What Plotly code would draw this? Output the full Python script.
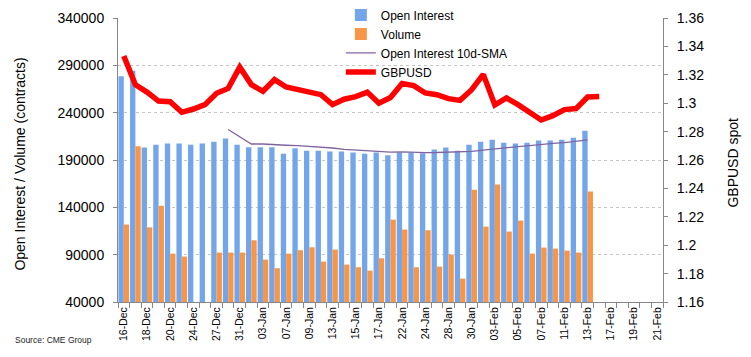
import plotly.graph_objects as go

# ---- data ----
dates = ["16-Dec", "17-Dec", "18-Dec", "19-Dec", "20-Dec", "23-Dec", "24-Dec", "26-Dec",
         "27-Dec", "30-Dec", "31-Dec", "02-Jan", "03-Jan", "06-Jan", "07-Jan", "08-Jan",
         "09-Jan", "10-Jan", "13-Jan", "14-Jan", "15-Jan", "16-Jan", "17-Jan", "21-Jan",
         "22-Jan", "23-Jan", "24-Jan", "27-Jan", "28-Jan", "29-Jan", "30-Jan", "31-Jan",
         "03-Feb", "04-Feb", "05-Feb", "06-Feb", "07-Feb", "10-Feb", "11-Feb", "12-Feb",
         "13-Feb", "14-Feb", "17-Feb", "18-Feb", "19-Feb", "20-Feb", "21-Feb"]

open_interest = [278400, 284400, 203100, 206200, 207300, 207300, 206200, 207300, 209400, 212600,
                 206200, 203400, 203400, 203400, 196700, 202400, 199900, 199900, 198900, 198900,
                 197800, 196700, 197800, 195000, 197800, 197800, 197100, 201000, 203100, 199900,
                 206200, 209400, 211500, 208300, 207300, 208300, 210500, 210500, 211500, 213600,
                 221000]

volume = [121800, 204500, 118900, 141800, 91100, 88000, None, None, 92200, 92200,
          92200, 105200, 84800, 75700, 91100, 94700, 97800, 82700, 95400, 79500,
          76700, 73200, 86200, 127000, 116500, 76700, 115800, 77400, 90100, 64700,
          158700, 119600, 164000, 114400, 126000, 91100, 97500, 96400, 94300, 92200,
          156600]

# 10d-SMA starts on 30-Dec
oi_sma = [None] * 9 + [222200, 215000, 206900, 206900, 206600, 205600, 205100, 204500, 203700,
                       202700, 201300, 200500, 199800, 199200, 198400, 198500, 198000, 197800,
                       197900, 198300, 198400, 199200, 200500, 201900, 203200, 204200, 205200,
                       206500, 207500, 208300, 209700, 211200]

gbpusd = [1.3332, 1.3130, 1.3078, 1.3015, 1.3010, 1.2936, 1.2959, 1.2990, 1.3070, 1.3104,
          1.3254, 1.3131, 1.3084, 1.3166, 1.3114, 1.3095, 1.3072, 1.3060, 1.2990, 1.3028,
          1.3046, 1.3078, 1.3000, 1.3040, 1.3138, 1.3124, 1.3072, 1.3060, 1.3032, 1.3020,
          1.3095, 1.3203, 1.2988, 1.3037, 1.2990, 1.2931, 1.2882, 1.2912, 1.2955, 1.2962,
          1.3044, 1.3048]

tick_text = [d if i % 2 == 0 else "" for i, d in enumerate(dates)]

FONT = "Liberation Sans, Arial, sans-serif"
AXIS_GREY = "#878787"

fig = go.Figure()
fig.add_trace(go.Bar(x=dates[:len(open_interest)], y=open_interest, name="Open Interest",
                     marker=dict(color="#73a5ea", line=dict(width=0))))
fig.add_trace(go.Bar(x=dates[:len(volume)], y=volume, name="Volume",
                     marker=dict(color="#f79646", line=dict(width=0))))
fig.add_trace(go.Scatter(x=dates[:len(oi_sma)], y=oi_sma, name="Open Interest 10d-SMA",
                         mode="lines", line=dict(color="#8064a2", width=1.3)))
fig.add_trace(go.Scatter(x=dates[:len(gbpusd)], y=gbpusd, name="GBPUSD", yaxis="y2",
                         mode="lines", line=dict(color="#ff0000", width=5.5)))

# the page body adds an 8px margin, so the figure is 8px smaller on each side
fig.update_layout(
    template="none",
    width=743, height=349,
    margin=dict(l=110, r=88, t=10, b=55, autoexpand=False),
    paper_bgcolor="white", plot_bgcolor="white",
    font=dict(family=FONT, color="black", size=14),
    barmode="group", bargap=0.08, bargroupgap=0,
    showlegend=True,
    legend=dict(xref="container", yref="paper", x=0.448, y=1.062,
                xanchor="left", yanchor="top",
                bgcolor="rgba(255,255,255,0)", borderwidth=0,
                font=dict(size=12, family=FONT, color="black"),
                tracegroupgap=0, itemwidth=30, traceorder="normal"),
    xaxis=dict(type="category", categoryorder="array", categoryarray=dates,
               range=[-0.5, len(dates) - 0.5], automargin=False,
               tickmode="array", tickvals=dates, ticktext=tick_text,
               tickson="boundaries", ticks="outside", ticklen=5, tickcolor=AXIS_GREY,
               tickangle=-90, tickfont=dict(size=10.5),
               showline=True, linecolor=AXIS_GREY, linewidth=1, showgrid=False,
               zeroline=False),
    yaxis=dict(range=[40000, 340000], tick0=40000, dtick=50000, tickformat="d",
               automargin=False,
               showline=True, linecolor=AXIS_GREY, linewidth=1,
               ticks="outside", ticklen=4, tickcolor=AXIS_GREY, ticklabelstandoff=6,
               showgrid=True, gridcolor="#c4c4c4", gridwidth=1, griddash="3px,3px",
               zeroline=False, tickfont=dict(size=14)),
    yaxis2=dict(range=[1.16, 1.36], tick0=1.16, dtick=0.02, overlaying="y", side="right",
                automargin=False,
                showline=True, linecolor=AXIS_GREY, linewidth=1,
                ticks="outside", ticklen=4, tickcolor=AXIS_GREY, ticklabelstandoff=6,
                showgrid=False, zeroline=False, tickfont=dict(size=14)),
    annotations=[
        dict(text="Open Interest / Volume (contracts)", xref="paper", yref="paper",
             x=-0.18, y=0.487, xanchor="center", yanchor="middle", textangle=-90,
             showarrow=False, font=dict(size=14)),
        dict(text="GBPUSD spot", xref="paper", yref="paper",
             x=1.128, y=0.49, xanchor="center", yanchor="middle", textangle=-90,
             showarrow=False, font=dict(size=14)),
        dict(text="Source: CME Group", xref="paper", yref="paper",
             x=-0.193, y=-0.134, xanchor="left", yanchor="middle",
             showarrow=False, font=dict(size=8.5, color="#222222")),
    ],
)

fig.write_html("out.html")
